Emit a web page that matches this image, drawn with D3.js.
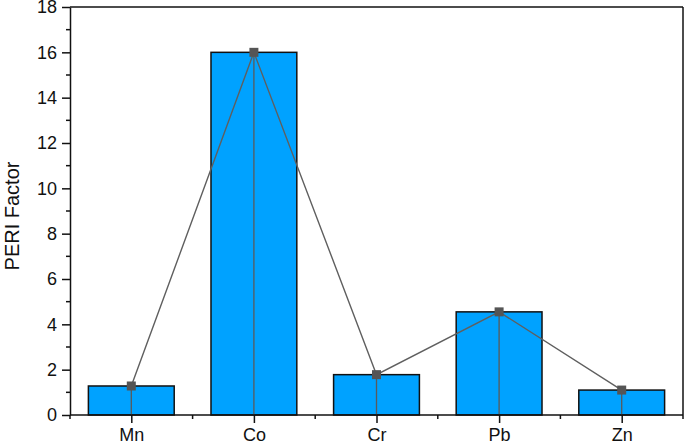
<!DOCTYPE html>
<html><head><meta charset="utf-8">
<script src="https://cdn.jsdelivr.net/npm/d3@7"></script>
<style>body{margin:0;background:#fff}svg{display:block}text{font-family:Arial,"Liberation Sans",sans-serif}</style>
</head><body><svg id="c" width="685" height="444"></svg>
<script>
const categories = ["Mn","Co","Cr","Pb","Zn"];
const values = [1.28, 16.0, 1.78, 4.55, 1.1];
const yTicks = [0,2,4,6,8,10,12,14,16,18];

const svg = d3.select("#c");
const m = {l:70, r:683, t:7, b:415};
const xc = d3.scalePoint().domain(categories).range([m.l, m.r]).padding(0.5);
const y = d3.scaleLinear().domain([0,18]).range([m.b, m.t]);
const bw = (m.r - m.l)/categories.length;
const barW = bw*0.70;

svg.selectAll("rect.bar").data(categories).enter().append("rect")
  .attr("x", d => xc(d) - barW/2).attr("width", barW)
  .attr("y", (d,i) => y(values[i])).attr("height", (d,i) => y(0) - y(values[i]))
  .attr("fill", "#00A2FF").attr("stroke", "#111").attr("stroke-width", 1.5);

svg.selectAll("line.drop").data(categories).enter().append("line")
  .attr("x1", d => xc(d)).attr("x2", d => xc(d))
  .attr("y1", (d,i) => y(values[i])).attr("y2", y(0))
  .attr("stroke", "#5a5a5a").attr("stroke-width", 1.3);

const line = d3.line().x((d,i) => xc(categories[i])).y(d => y(d));
svg.append("path").datum(values).attr("d", line)
  .attr("fill", "none").attr("stroke", "#5f5f5f").attr("stroke-width", 1.4);

svg.selectAll("rect.mk").data(categories).enter().append("rect")
  .attr("x", d => xc(d) - 4.5).attr("y", (d,i) => y(values[i]) - 4.5)
  .attr("width", 9).attr("height", 9).attr("fill", "#555");

svg.append("line").attr("x1", m.l).attr("x2", m.r).attr("y1", m.t).attr("y2", m.t).attr("stroke", "#111").attr("stroke-width", 1.5);
svg.append("line").attr("x1", m.r).attr("x2", m.r).attr("y1", m.t).attr("y2", m.b).attr("stroke", "#111").attr("stroke-width", 1.5);

const ya = svg.append("g").attr("transform", `translate(${m.l},0)`)
  .call(d3.axisLeft(y).tickValues(yTicks).tickSize(8).tickPadding(5).tickSizeOuter(0));
ya.select(".domain").attr("stroke", "#111").attr("stroke-width", 1.5);
ya.selectAll(".tick line").attr("stroke", "#111").attr("stroke-width", 1.5);
ya.selectAll("text").attr("font-size", 18).attr("fill", "#111");
const yMinor = d3.range(1, 18, 2);
svg.selectAll("line.ym").data(yMinor).enter().append("line")
  .attr("x1", m.l - 4).attr("x2", m.l).attr("y1", d => y(d)).attr("y2", d => y(d))
  .attr("stroke", "#111").attr("stroke-width", 1.5);

const xa = svg.append("g").attr("transform", `translate(0,${m.b})`)
  .call(d3.axisBottom(xc).tickSize(8).tickPadding(5).tickSizeOuter(0));
xa.select(".domain").attr("d", `M${m.l},0H${m.r}`).attr("stroke", "#111").attr("stroke-width", 1.5);
xa.selectAll(".tick line").attr("stroke", "#111").attr("stroke-width", 1.5);
xa.selectAll("text").attr("font-size", 18).attr("fill", "#111");
const xMinor = d3.range(0, categories.length + 1).map(i => m.l + i*bw);
svg.selectAll("line.xm").data(xMinor).enter().append("line")
  .attr("x1", d => d).attr("x2", d => d).attr("y1", m.b).attr("y2", m.b + 4)
  .attr("stroke", "#111").attr("stroke-width", 1.5);

svg.append("text").attr("transform", `translate(19,${(m.t+m.b)/2 + 5}) rotate(-90)`)
  .attr("text-anchor", "middle").attr("font-size", 20).attr("fill", "#111").text("PERI Factor");
</script></body></html>
